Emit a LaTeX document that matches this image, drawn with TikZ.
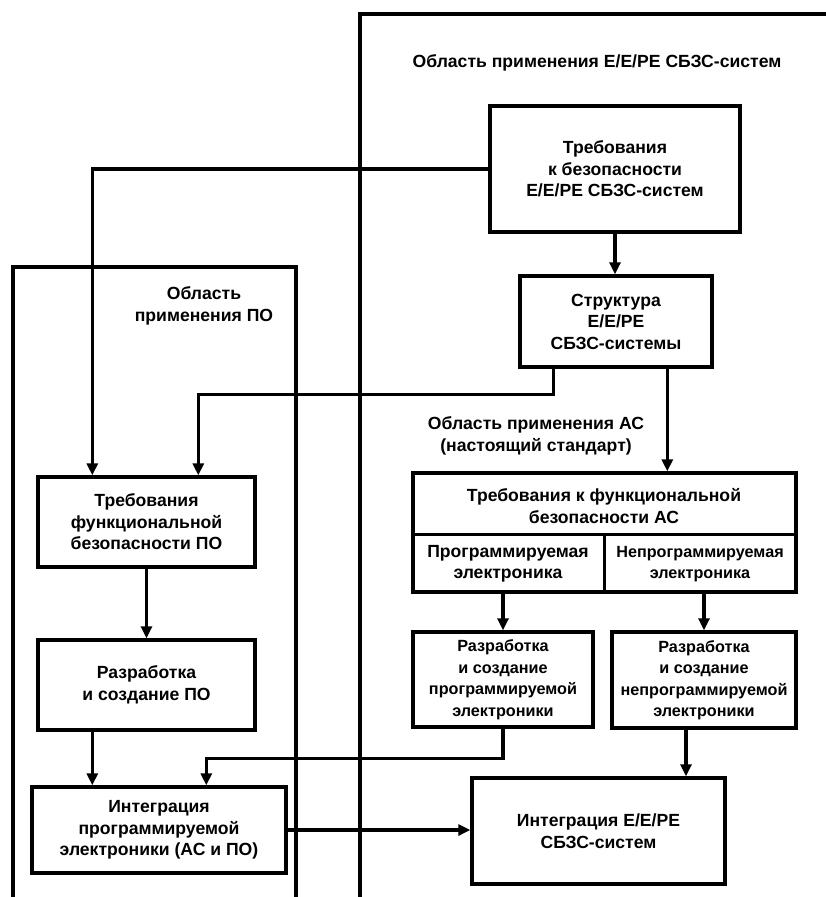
\documentclass[tikz,border=0pt]{standalone}
\usepackage{fontspec}
\setmainfont{Liberation Sans}
\usetikzlibrary{arrows.meta}
\begin{document}
\begin{tikzpicture}[x=1pt,y=-1pt,
  every node/.style={font=\fontsize{17.6}{21.5}\selectfont\bfseries},
  small/.style={font=\fontsize{16.2}{21.5}\selectfont\bfseries},
  box/.style={draw, line width=3.4pt, inner sep=0pt, align=center},
  lbl/.style={align=center, inner sep=0pt},
  frame/.style={line width=3.4pt},
  con/.style={line width=3.4pt},
  arr/.style={line width=3.4pt, -{Triangle[length=12pt,width=11pt]}}]
\useasboundingbox (0,0) rectangle (826,897);

% scope frames
\draw[frame] (360,897) -- (360,14) -- (830,14);
\draw[frame] (13,897) -- (13,267) -- (296,267) -- (296,897);

% scope labels
\node[lbl] (t1) at (597,63) {Область применения Е/Е/РЕ СБЗС-систем};
\node[lbl] (t2) at (204,306) {Область\\применения ПО};
\node[lbl] (t3) at (536,436) {Область применения АС\\(настоящий стандарт)};

% boxes
\node[box, minimum width=250pt, minimum height=126pt] (req) at (615,169) {Требования\\к безопасности\\Е/Е/РЕ СБЗС-систем};
\node[box, minimum width=192pt, minimum height=91pt] (struct) at (616,321.5) {Структура\\Е/Е/РЕ\\СБЗС-системы};
\node[box, minimum width=383pt, minimum height=119pt] (acreq) at (604.5,532.5) {};
\node[box, small, minimum width=180pt, minimum height=95pt] (progdev) at (503,679.5) {Разработка\\и создание\\программируемой\\электроники};
\node[box, small, minimum width=184pt, minimum height=96pt] (nprogdev) at (704,680) {Разработка\\и создание\\непрограммируемой\\электроники};
\node[box, minimum width=253pt, minimum height=106pt] (integ) at (598.5,831) {Интеграция Е/Е/РЕ\\СБЗС-систем};
\node[box, minimum width=217pt, minimum height=90pt] (poreq) at (146.5,522) {Требования\\функциональной\\безопасности ПО};
\node[box, minimum width=217pt, minimum height=90pt] (podev) at (146.5,685) {Разработка\\и создание ПО};
\node[box, minimum width=254pt, minimum height=86pt] (pointeg) at (159,830) {Интеграция\\программируемой\\электроники (АС и ПО)};

% AC requirements box contents
\draw[con] ([yshift=-63pt]acreq.north west) -- ([yshift=-63pt]acreq.north east);
\draw[con] ([yshift=-63pt]acreq.north) -- (acreq.south);
\node[lbl] (acreqt) at (604,506) {Требования к функциональной\\безопасности АС};
\node[lbl] (prog) at (508,564) {Программируемая\\электроника};
\node[lbl, small] (nprog) at (700,564) {Непрограммируемая\\электроника};

% connectors
\draw[arr] (req.west) -| ([xshift=56pt]poreq.north west);
\draw[arr] (req.south) -- (req.south |- struct.north);
\draw[arr] ([xshift=35pt]struct.south west) -- ++(0,26) -| ([xshift=162pt]poreq.north west);
\coordinate (s2) at ([xshift=149pt]struct.south west);
\draw[arr] (s2) -- (s2 |- acreq.north);
\draw[arr] (progdev.north |- acreq.south) -- (progdev.north);
\draw[arr] (nprogdev.north |- acreq.south) -- (nprogdev.north);
\draw[arr] (progdev.south) -- ++(0,30) -| ([xshift=176pt]pointeg.north west);
\coordinate (n2) at ([xshift=-18pt]nprogdev.south);
\draw[arr] (n2) -- (n2 |- integ.north);
\draw[arr] (poreq.south) -- (podev.north);
\coordinate (p2) at ([xshift=56pt]podev.south west);
\draw[arr] (p2) -- (p2 |- pointeg.north);
\draw[arr] (pointeg.east) -- (pointeg.east -| integ.west);
\end{tikzpicture}
\end{document}
